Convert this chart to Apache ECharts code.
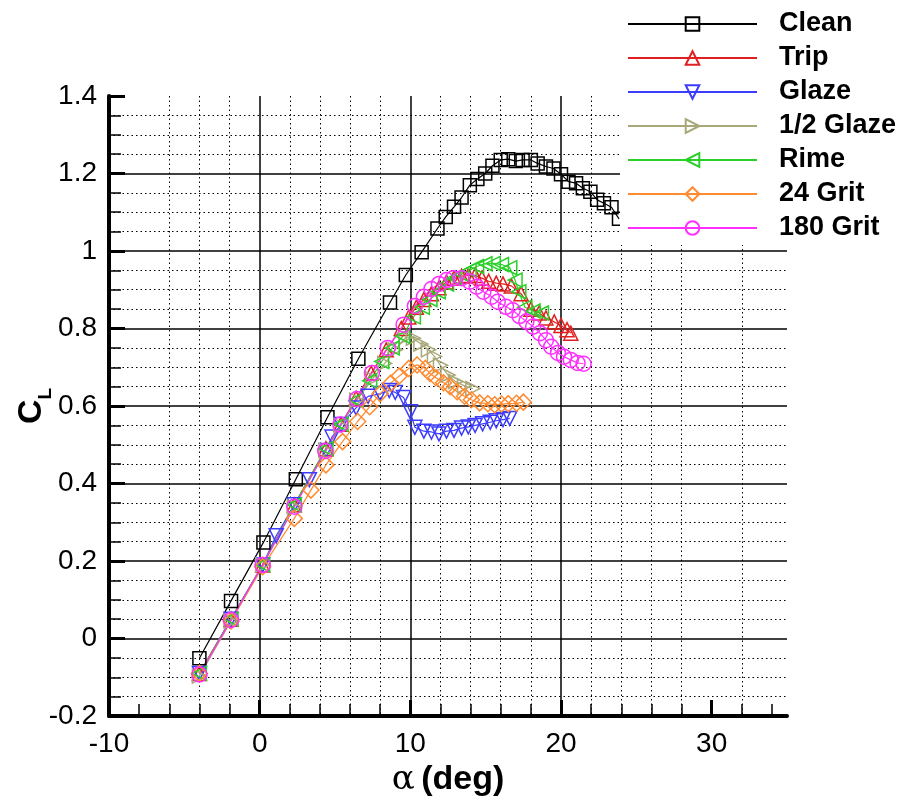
<!DOCTYPE html>
<html><head><meta charset="utf-8">
<script src="https://cdn.jsdelivr.net/npm/echarts@6/dist/echarts.min.js"></script>
<style>html,body{margin:0;padding:0;background:#fff}#c{width:903px;height:804px}</style>
</head><body><div id="c"></div>
<script>
// [alpha (deg), CL]
const clean = [[-4.0,-0.051],[-1.9,0.097],[0.25,0.248],[2.4,0.411],[4.5,0.571],[6.55,0.722],[8.65,0.867],[9.7,0.938],[10.75,0.997],[11.8,1.058],[12.35,1.088],[12.9,1.114],[13.4,1.138],[13.95,1.170],[14.45,1.186],[14.97,1.200],[15.45,1.220],[16.0,1.235],[16.5,1.237],[17.0,1.232],[17.45,1.235],[18.0,1.235],[18.45,1.226],[19.0,1.218],[19.5,1.213],[20.0,1.198],[20.5,1.179],[21.0,1.175],[21.45,1.162],[21.95,1.153],[22.4,1.132],[22.85,1.123],[23.35,1.113],[23.85,1.083]];
const trip = [[-4.0,-0.09],[-1.9,0.05],[0.2,0.19],[2.3,0.345],[4.4,0.49],[5.4,0.553],[6.4,0.62],[7.4,0.685],[8.4,0.745],[9.4,0.8],[9.9,0.83],[10.4,0.855],[10.9,0.875],[11.4,0.89],[11.9,0.905],[12.4,0.92],[12.9,0.93],[13.4,0.935],[13.85,0.937],[14.3,0.937],[14.75,0.93],[15.2,0.922],[15.7,0.917],[16.15,0.915],[16.7,0.91],[17.35,0.89],[18.0,0.85],[18.55,0.84],[19.0,0.827],[19.55,0.817],[20.0,0.808],[20.4,0.797],[20.65,0.788]];
const glaze = [[-4.0,-0.09],[-1.9,0.05],[0.2,0.19],[1.1,0.265],[2.3,0.345],[3.3,0.41],[4.4,0.485],[4.8,0.52],[5.4,0.552],[6.4,0.595],[7.2,0.625],[8.0,0.632],[8.6,0.64],[9.0,0.635],[9.55,0.622],[10.0,0.585],[10.3,0.545],[10.9,0.535],[11.4,0.533],[11.9,0.528],[12.4,0.535],[12.9,0.537],[13.4,0.543],[13.85,0.546],[14.3,0.55],[14.8,0.554],[15.3,0.558],[15.7,0.562],[16.15,0.565],[16.6,0.568]];
const halfGlaze = [[-4.0,-0.097],[-1.9,0.045],[0.2,0.19],[2.3,0.34],[4.4,0.485],[5.4,0.55],[6.45,0.615],[7.5,0.67],[8.3,0.71],[9.0,0.745],[9.7,0.778],[10.2,0.775],[10.7,0.76],[11.2,0.745],[11.6,0.728],[12.0,0.705],[12.5,0.68],[13.0,0.663],[13.6,0.652],[14.15,0.645]];
const rime = [[-4.0,-0.09],[-1.9,0.05],[0.2,0.19],[2.3,0.345],[4.4,0.49],[5.4,0.553],[6.4,0.615],[7.3,0.665],[8.1,0.715],[8.8,0.75],[9.5,0.78],[10.2,0.83],[10.8,0.855],[11.3,0.875],[11.85,0.895],[12.4,0.915],[12.9,0.93],[13.4,0.94],[13.9,0.95],[14.4,0.96],[14.95,0.967],[15.5,0.968],[16.05,0.965],[16.6,0.957],[16.95,0.925],[17.2,0.895],[17.6,0.855],[18.15,0.845],[18.7,0.84]];
const grit24 = [[-4.0,-0.09],[-1.9,0.045],[0.2,0.185],[2.3,0.31],[3.4,0.383],[4.4,0.448],[5.5,0.508],[6.5,0.56],[7.3,0.598],[8.0,0.632],[8.7,0.659],[9.25,0.677],[9.9,0.697],[10.45,0.706],[11.0,0.697],[11.3,0.684],[11.7,0.673],[12.2,0.66],[12.65,0.65],[13.1,0.637],[13.6,0.625],[14.05,0.616],[14.6,0.608],[15.15,0.606],[15.6,0.603],[16.05,0.605],[16.5,0.606],[17.05,0.607],[17.5,0.61]];
const grit180 = [[-4.0,-0.093],[-1.9,0.048],[0.2,0.19],[2.3,0.34],[4.35,0.484],[5.35,0.552],[6.45,0.618],[7.45,0.685],[8.5,0.75],[9.55,0.81],[10.3,0.858],[10.9,0.882],[11.4,0.902],[11.9,0.915],[12.4,0.925],[12.85,0.93],[13.4,0.93],[13.95,0.921],[14.4,0.908],[14.85,0.895],[15.4,0.882],[15.8,0.869],[16.35,0.856],[16.8,0.847],[17.25,0.832],[17.7,0.818],[18.15,0.805],[18.6,0.788],[19.0,0.77],[19.35,0.753],[19.8,0.737],[20.2,0.727],[20.65,0.719],[21.1,0.711],[21.5,0.709]];

const seriesNames = ['Clean','Trip','Glaze','1/2 Glaze','Rime','24 Grit','180 Grit'];
const xMajorTicks = [-10,0,10,20,30];
const xMinorTicks = [-8,-6,-4,-2,2,4,6,8,12,14,16,18,22,24,26,28,32,34];

const FONT = 'Liberation Sans';
function mk(name, data, color, symbol, rot, size) {
  return {
    name, type: 'line', data, symbol, symbolRotate: rot, symbolSize: size,
    showAllSymbol: true, clip: false,
    lineStyle: { color, width: 1.2 },
    itemStyle: { color: 'rgba(255,255,255,0)', borderColor: color, borderWidth: 1.5 },
    emphasis: { disabled: true }
  };
}
const series = [
  mk(seriesNames[0], clean, '#000000', 'rect', 0, 13),
  mk(seriesNames[1], trip, '#e02020', 'triangle', 0, 14),
  mk(seriesNames[2], glaze, '#3c3cff', 'triangle', 180, 14),
  mk(seriesNames[3], halfGlaze, '#a8a878', 'triangle', -90, 14),
  mk(seriesNames[4], rime, '#28d028', 'triangle', 90, 14),
  mk(seriesNames[5], grit24, '#ff8a30', 'diamond', 0, 16),
  mk(seriesNames[6], grit180, '#ff30ff', 'circle', 0, 15)
];

const chart = echarts.init(document.getElementById('c'), null, { renderer: 'canvas' });
chart.setOption({
  animation: false,
  backgroundColor: '#fff',
  grid: { left: 109, right: 116, top: 96, bottom: 88, containLabel: false, outerBoundsMode: 'none' },
  legend: {
    orient: 'vertical', left: 620, top: 0, padding: [10, 10, 3, 7],
    backgroundColor: '#fff', itemWidth: 129, itemHeight: 17, itemGap: 6,
    selectedMode: false, data: seriesNames,
    textStyle: { fontSize: 27, fontWeight: 'bold', color: '#000', fontFamily: FONT, lineHeight: 28, padding: [0, 0, 0, 17] }
  },
  xAxis: [
    {
      type: 'value', min: -10, max: 35, interval: 10, position: 'bottom',
      name: '{a|α}  {b|(deg)}', nameLocation: 'middle', nameGap: 47,
      nameTextStyle: { color: '#000', rich: {
        a: { fontFamily: 'DejaVu Serif', fontSize: 34, color: '#000' },
        b: { fontFamily: FONT, fontSize: 34, fontWeight: 'bold', color: '#000' } } },
      axisLine: { show: true, onZero: false, lineStyle: { color: '#000', width: 4 } },
      axisTick: { show: true, inside: true, length: 16, customValues: xMajorTicks, lineStyle: { color: '#000', width: 3 } },
      axisLabel: { customValues: xMajorTicks, fontSize: 28, color: '#000', fontFamily: FONT, margin: 14 },
      splitLine: { show: true, showMinLine: false, showMaxLine: false, lineStyle: { color: '#000', width: 1.5 } }
    },
    {
      type: 'value', min: -10, max: 35, interval: 2, position: 'bottom',
      axisLine: { show: false, onZero: false },
      axisTick: { show: true, inside: true, length: 12, customValues: xMinorTicks, lineStyle: { color: '#000', width: 1.5 } },
      axisLabel: { show: false },
      splitLine: { show: true, showMinLine: false, showMaxLine: false, lineStyle: { color: '#000', width: 1, type: [1.5, 3] } }
    }
  ],
  yAxis: {
    type: 'value', min: -0.2, max: 1.4, interval: 0.2,
    name: '{c|C}{l|L}', nameLocation: 'middle', nameRotate: 90, nameGap: 54, nameMoveOverlap: false,
    nameTextStyle: { color: '#000', rich: {
      c: { fontFamily: FONT, fontSize: 34, fontWeight: 'bold', lineHeight: 46, verticalAlign: 'middle', color: '#000' },
      l: { fontFamily: FONT, fontSize: 19, fontWeight: 'bold', lineHeight: 19, verticalAlign: 'bottom', color: '#000' } } },
    axisLine: { show: true, onZero: false, lineStyle: { color: '#000', width: 4 } },
    axisTick: { show: true, inside: true, length: 16, lineStyle: { color: '#000', width: 3 } },
    minorTick: { show: true, splitNumber: 4, length: 12, lineStyle: { color: '#000', width: 1.5 } },
    minorSplitLine: { show: true, lineStyle: { color: '#000', width: 1, type: [1.5, 3] } },
    splitLine: { show: true, showMinLine: false, showMaxLine: false, lineStyle: { color: '#000', width: 1.5 } },
    axisLabel: { fontSize: 28, color: '#000', fontFamily: FONT, margin: 12,
      formatter: v => String(Math.round(v * 10) / 10) }
  },
  series
});
</script>
</body></html>
